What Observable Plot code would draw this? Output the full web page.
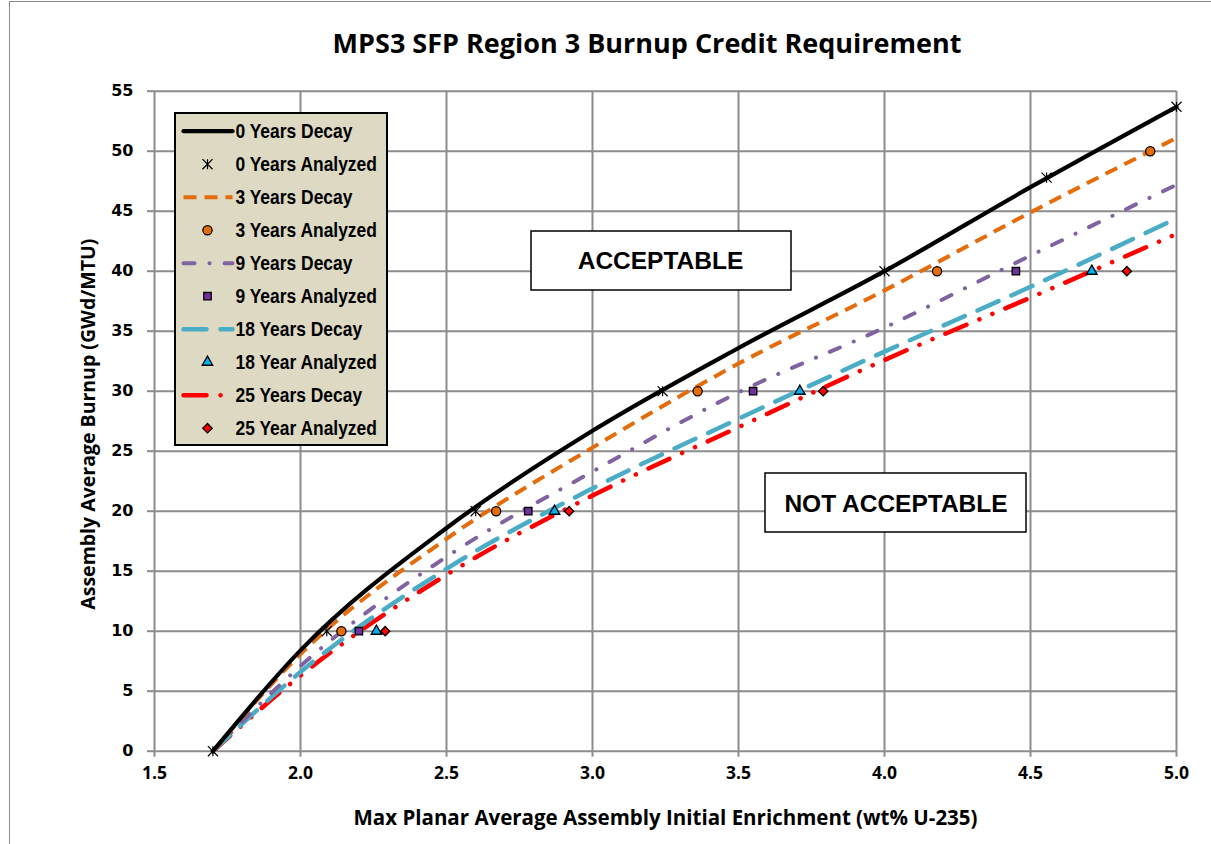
<!DOCTYPE html>
<html><head><meta charset="utf-8">
<script src="https://cdn.jsdelivr.net/npm/d3@7"></script>
<script src="https://cdn.jsdelivr.net/npm/@observablehq/plot@0.6"></script>
<style>
body{margin:0;background:#fff;}
#wrap{position:relative;width:1211px;height:844px;overflow:hidden;background:#fff;}
#border{position:absolute;left:9px;top:1px;width:1300px;height:900px;border:1px solid #8a8a8a;box-sizing:border-box;}
#title{position:absolute;top:24px;left:0;width:1294px;text-align:center;font:bold 27px "Open Sans",sans-serif;color:#000;}
#chart{position:absolute;left:0;top:0;}
</style></head><body>
<div id="wrap"><div id="border"></div><div id="chart"></div><div id="title">MPS3 SFP Region 3 Burnup Credit Requirement</div></div>
<script>
// ---- data ----
const curveEnrichment = [1.70, 2.0, 2.5, 3.0, 3.5, 4.0, 4.5, 5.0];
const burnup0yr  = [0, 8.4, 18.6, 26.7, 33.6, 40.0, 47.0, 53.7];
const burnup3yr  = [0, 8.1, 17.7, 25.3, 32.3, 38.4, 44.9, 51.1];
const burnup9yr  = [0, 7.1, 16.2, 23.3, 29.9, 35.3, 41.3, 47.2];
const burnup18yr = [0, 6.6, 15.2, 21.9, 27.7, 33.3, 38.7, 44.4];
const burnup25yr = [0, 6.3, 14.7, 21.3, 27.0, 32.6, 37.8, 43.1];

const analyzed0yrX  = [1.70, 2.09, 2.60, 3.24, 4.00, 4.555, 5.0];
const analyzed0yrY  = [0, 10, 20, 30, 40, 47.8, 53.7];
const analyzed3yrX  = [2.14, 2.67, 3.36, 4.18, 4.91];
const analyzed3yrY  = [10, 20, 30, 40, 50];
const analyzed9yrX  = [2.20, 2.78, 3.55, 4.45];
const analyzed9yrY  = [10, 20, 30, 40];
const analyzed18yrX = [2.26, 2.87, 3.71, 4.71];
const analyzed18yrY = [10, 20, 30, 40];
const analyzed25yrX = [2.29, 2.92, 3.79, 4.83];
const analyzed25yrY = [10, 20, 30, 40];

const decayNames = ["0 Years Decay", "3 Years Decay", "9 Years Decay", "18 Years Decay", "25 Years Decay"];
const analyzedNames = ["0 Years Analyzed", "3 Years Analyzed", "9 Years Analyzed", "18 Year Analyzed", "25 Year Analyzed"];
const xTicks = [1.5, 2.0, 2.5, 3.0, 3.5, 4.0, 4.5, 5.0];
const yTicks = [0, 5, 10, 15, 20, 25, 30, 35, 40, 45, 50, 55];
const regionLabels = ["ACCEPTABLE", "NOT ACCEPTABLE"];

// ---- styles ----
// Excel-style star marker: an X with a vertical stroke
const starSymbol = {
  draw(ctx, size) {
    const r = Math.sqrt(size) * 0.45;
    ctx.moveTo(-r, -r); ctx.lineTo(r, r);
    ctx.moveTo(-r, r); ctx.lineTo(r, -r);
    ctx.moveTo(0, -r); ctx.lineTo(0, r);
  }
};
const lineStyles = [
  {stroke: "#000000", strokeWidth: 4.2},
  {stroke: "#E46C0A", strokeWidth: 4, strokeDasharray: "13,8", strokeLinecap: "butt"},
  {stroke: "#8064A2", strokeWidth: 4, strokeDasharray: "11,15,0.1,15", strokeLinecap: "round"},
  {stroke: "#4BACC6", strokeWidth: 4.5, strokeDasharray: "23,14", strokeLinecap: "round"},
  {stroke: "#FF0000", strokeWidth: 4.5, strokeDasharray: "23,14,0.1,14,0.1,14", strokeLinecap: "round"}
];
const dotStyles = [
  {symbol: starSymbol, r: 6.3, stroke: "#000", strokeWidth: 1.2, fill: "none"},
  {symbol: "circle", r: 4.6, fill: "#E46C0A", stroke: "#000", strokeWidth: 1.3},
  {symbol: "square", r: 4.2, fill: "#7030A0", stroke: "#000", strokeWidth: 1.3},
  {symbol: "triangle", r: 3.9, fill: "#00B0F0", stroke: "#000", strokeWidth: 1.3},
  {symbol: "diamond2", r: 4.2, fill: "#FF0000", stroke: "#000", strokeWidth: 1.3}
];

// ---- build tables ----
const curves = [burnup0yr, burnup3yr, burnup9yr, burnup18yr, burnup25yr]
  .map(ys => curveEnrichment.map((x, i) => ({x, y: ys[i]})));
const analyzed = [
  [analyzed0yrX, analyzed0yrY], [analyzed3yrX, analyzed3yrY], [analyzed9yrX, analyzed9yrY],
  [analyzed18yrX, analyzed18yrY], [analyzed25yrX, analyzed25yrY]
].map(([xs, ys]) => xs.map((x, i) => ({x, y: ys[i]})));

// pixel layout -> data coordinates for annotations / legend
const ML = 154, MR = 35, MT = 90.7, MB = 93.3, W = 1211, H = 844;
const PX = d3.scaleLinear([ML, W - MR], [1.5, 5.0]);
const PY = d3.scaleLinear([H - MB, MT], [0, 55]);

const boxes = [
  {x1: PX(531), x2: PX(791), y1: PY(231), y2: PY(290), cx: PX(660), cy: PY(261), label: regionLabels[0]},
  {x1: PX(765), x2: PX(1026), y1: PY(473), y2: PY(532), cx: PX(895.5), cy: PY(504), label: regionLabels[1]}
];

const rowY = j => PY(130.7 + 33 * j);
const legendRows = decayNames.flatMap((n, i) => [
  {label: n, j: 2 * i}, {label: analyzedNames[i], j: 2 * i + 1}
]);

const legendFont = {fontFamily: "'Liberation Sans',Arial,sans-serif", fontWeight: "bold", fontSize: 20.5};

const marks = [
  Plot.gridX(xTicks, {stroke: "#8c8c8c", strokeOpacity: 1, strokeWidth: 2}),
  Plot.gridY(yTicks, {stroke: "#8c8c8c", strokeOpacity: 1, strokeWidth: 2}),
  Plot.axisX(xTicks, {tickFormat: d => d.toFixed(1), tickSize: 6, tickPadding: 9, stroke: "#8c8c8c", strokeWidth: 2,
    fill: "#000", fontSize: 17.5, fontWeight: "bold", fontFamily: "'Open Sans',sans-serif", label: null}),
  Plot.axisY(yTicks, {tickSize: 7, tickPadding: 14, stroke: "#8c8c8c", strokeWidth: 2,
    fill: "#000", fontSize: 16, fontWeight: "bold", fontFamily: "'DejaVu Sans',sans-serif", label: null}),
  Plot.text(["Max Planar Average Assembly Initial Enrichment (wt% U-235)"], {frameAnchor: "bottom", dy: 74,
    fontSize: 20.5, fontWeight: "bold", fontFamily: "'Open Sans',sans-serif", fill: "#000"}),
  Plot.text(["Assembly Average Burnup (GWd/MTU)"], {frameAnchor: "left", textAnchor: "middle", dx: -66, dy: 3, rotate: -90,
    fontSize: 19.5, fontWeight: "bold", fontFamily: "'Open Sans',sans-serif", fill: "#000"}),
  // region boxes
  Plot.rect(boxes, {x1: "x1", x2: "x2", y1: "y1", y2: "y2", fill: "#fff", stroke: "#000", strokeWidth: 1.5}),
  Plot.text(boxes, {x: "cx", y: "cy", text: "label", fontSize: 24.5, fontWeight: "bold",
    fontFamily: "'Liberation Sans',Arial,sans-serif", fill: "#000"}),
  // curves (drawn back to front)
  ...curves.map((c, i) => ({c, i})).reverse().map(({c, i}) =>
    Plot.line(c, {x: "x", y: "y", curve: "monotone-x", ...lineStyles[i]})),
  ...analyzed.map((a, i) => Plot.dot(a, {x: "x", y: "y", ...dotStyles[i]})),
  // legend
  Plot.rect([{x1: PX(175), x2: PX(387), y1: PY(113), y2: PY(445)}],
    {x1: "x1", x2: "x2", y1: "y1", y2: "y2", fill: "#DDD9C3", stroke: "#000", strokeWidth: 2}),
  ...lineStyles.map((s, i) => Plot.line([[PX(183), rowY(2 * i)], [PX(232), rowY(2 * i)]], {...s})),
  ...dotStyles.map((s, i) => Plot.dot([[PX(207), rowY(2 * i + 1)]], {...s})),
  Plot.text(legendRows, {x: () => PX(235), y: d => rowY(d.j), text: "label", textAnchor: "start", fill: "#000", ...legendFont})
];

const chart = Plot.plot({
  width: W, height: H,
  marginLeft: ML, marginRight: MR, marginTop: MT, marginBottom: MB,
  x: {domain: [1.5, 5.0]},
  y: {domain: [0, 55]},
  style: {background: "transparent", overflow: "visible"},
  marks
});
document.getElementById("chart").appendChild(chart);

// condense legend text to mimic the narrow face of the original
const legendSet = new Set([...decayNames, ...analyzedNames]);
chart.querySelectorAll("text").forEach(t => {
  if (legendSet.has(t.textContent)) {
    const len = t.getComputedTextLength();
    t.setAttribute("textLength", (len * 0.85).toFixed(1));
    t.setAttribute("lengthAdjust", "spacingAndGlyphs");
  }
});
</script>
</body></html>
